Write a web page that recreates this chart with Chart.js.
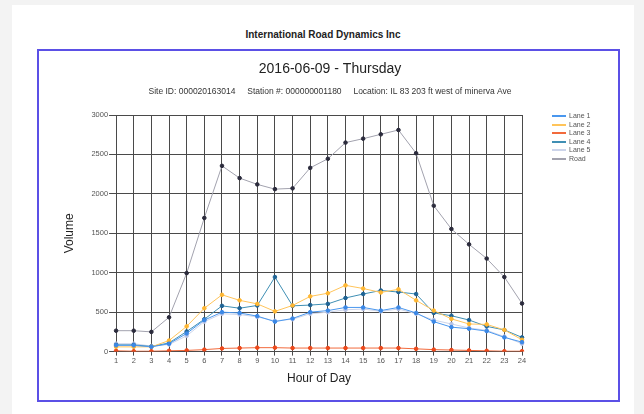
<!DOCTYPE html>
<html>
<head>
<meta charset="utf-8">
<script src="https://cdn.jsdelivr.net/npm/chart.js@4/dist/chart.umd.min.js"></script>
<style>
  body { margin: 0; background: #f3f3f3; font-family: "Liberation Sans", Arial, sans-serif; }
  #panel { position: absolute; left: 12px; top: 5px; width: 622px; height: 409px; background: #fff; }
  #head { position: absolute; left: 12px; width: 622px; top: 29px; text-align: center; font-size: 10px; font-weight: bold; color: #222; }
  #box { position: absolute; left: 37px; top: 49px; width: 583px; height: 353px; border: 2px solid #5b50e6; box-sizing: border-box; }
  #legend { position: absolute; left: 552px; top: 112px; font-size: 7px; color: #555; line-height: 8.5px; }
  #legend div { white-space: nowrap; }
  #legend span { display: inline-block; width: 14px; height: 2px; vertical-align: middle; margin-right: 3px; }
</style>
</head>
<body>
<div id="panel"></div>
<div id="head">International Road Dynamics Inc</div>
<div id="box"><canvas id="chart" width="579" height="349"></canvas></div>
<div id="legend"></div>
<script>
const hours = ['1','2','3','4','5','6','7','8','9','10','11','12','13','14','15','16','17','18','19','20','21','22','23','24'];
const lane1 = [80, 80, 60, 100, 230, 400, 500, 490, 450, 380, 420, 500, 520, 560, 560, 520, 560, 490, 380, 310, 290, 260, 180, 120];
const lane2 = [60, 60, 60, 140, 320, 550, 720, 650, 605, 510, 585, 700, 740, 840, 800, 750, 790, 650, 520, 415, 350, 345, 275, 150];
const lane3 = [10, 5, 5, 10, 15, 25, 40, 45, 50, 50, 45, 45, 45, 45, 45, 45, 45, 35, 25, 20, 15, 10, 5, 5];
const lane4 = [85, 85, 65, 110, 255, 410, 580, 550, 585, 945, 580, 590, 605, 680, 730, 775, 755, 730, 490, 455, 400, 320, 275, 180];
const lane5 = [100, 100, 70, 90, 200, 380, 480, 470, 440, 390, 410, 480, 500, 530, 540, 510, 540, 480, 400, 350, 300, 270, 190, 100];
const road = [265, 265, 250, 435, 995, 1695, 2355, 2200, 2120, 2060, 2070, 2330, 2445, 2650, 2700, 2755, 2810, 2515, 1850, 1555, 1360, 1180, 945, 610];

function series(label, data, line, dot) {
  return {
    label: label,
    data: data,
    borderColor: line,
    backgroundColor: dot,
    pointBackgroundColor: dot,
    pointBorderColor: dot,
    borderWidth: 1,
    pointRadius: 1.8,
    tension: 0
  };
}

const datasets = [
  series('Lane 1', lane1, '#4a97ee', '#3b88e6'),
  series('Lane 2', lane2, '#ffc45a', '#ffb733'),
  series('Lane 3', lane3, '#f26a3c', '#ee4a1c'),
  series('Lane 4', lane4, '#3f8fb4', '#1f6496'),
  series('Lane 5', lane5, '#ccd4ea', '#b9c4e6'),
  series('Road', road, '#a2a2ae', '#2b2b3c')
];

const tickFont = { size: 7.5, family: 'Liberation Sans' };

const ctx = document.getElementById('chart').getContext('2d');
const chart = new Chart(ctx, {
  type: 'line',
  data: { labels: hours, datasets: datasets },
  options: {
    responsive: false,
    animation: false,
    layout: { padding: { left: 19, right: 16, top: 0, bottom: 10 } },
    plugins: {
      legend: { display: false },
      tooltip: { enabled: false },
      title: {
        display: true,
        text: '2016-06-09 - Thursday',
        color: '#222',
        font: { size: 14, weight: 'normal', family: 'Liberation Sans' },
        padding: { top: 10, bottom: 9 }
      },
      subtitle: {
        display: true,
        text: 'Site ID: 000020163014     Station #: 000000001180     Location: IL 83 203 ft west of minerva Ave',
        color: '#333',
        font: { size: 8.5, family: 'Liberation Sans' },
        padding: { bottom: 18 }
      }
    },
    scales: {
      x: {
        offset: false,
        grid: { color: '#4a4a4a', lineWidth: 1, tickLength: 4 },
        border: { color: '#4a4a4a' },
        ticks: { color: '#555', font: tickFont, maxRotation: 0, autoSkip: false, padding: 1 },
        title: { display: true, text: 'Hour of Day', color: '#222', font: { size: 12, family: 'Liberation Sans' }, padding: { top: 5 } }
      },
      y: {
        min: 0,
        max: 3000,
        grid: { color: '#4a4a4a', lineWidth: 1, tickLength: 7 },
        border: { color: '#4a4a4a' },
        ticks: { stepSize: 500, color: '#555', font: tickFont, padding: 1, callback: v => String(v) },
        title: { display: true, text: 'Volume', color: '#222', font: { size: 12, family: 'Liberation Sans' }, padding: { bottom: 14 } }
      },
      // empty right axis, only reserves room for the legend
      side: {
        position: 'right',
        grid: { display: false },
        border: { display: false },
        ticks: { display: false },
        afterFit: s => { s.width = 80; }
      }
    }
  }
});

const legend = document.getElementById('legend');
datasets.forEach(ds => {
  const row = document.createElement('div');
  row.innerHTML = `<span style="background:${ds.borderColor}"></span>${ds.label}`;
  legend.appendChild(row);
});
</script>
</body>
</html>
